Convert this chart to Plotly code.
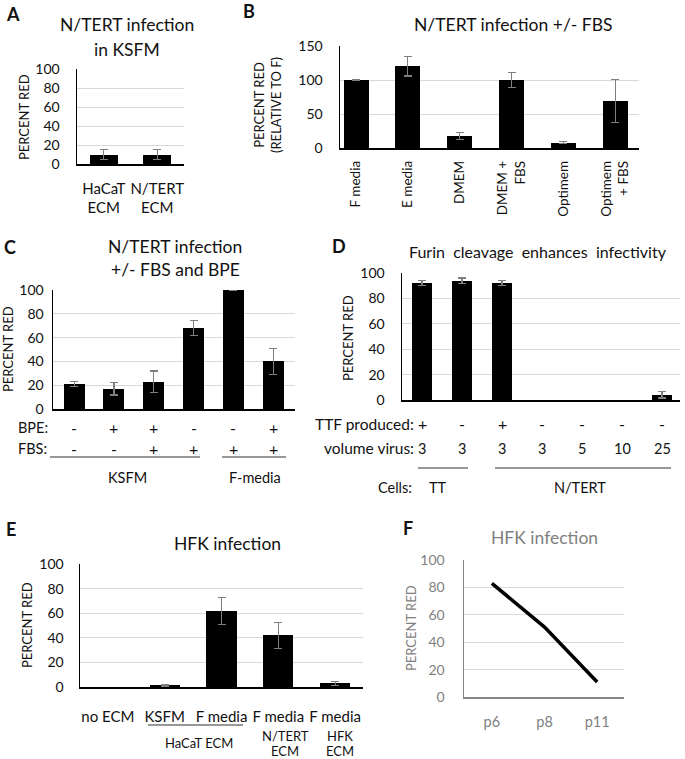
import plotly.graph_objects as go

# ---------------- data ----------------
A_cats = ["HaCaT<br>ECM", "N/TERT<br>ECM"]
A_vals = [10, 10]
A_err = [5, 5]

B_cats = ["F media", "E media", "DMEM", "DMEM +<br>FBS", "Optimem", "Optimem<br>+ FBS"]
B_vals = [100, 120, 18, 100, 8, 69]
B_err = [0.5, 14, 5, 11, 1, 32]

C_vals = [21, 17, 23, 68, 100, 40]
C_err = [2.2, 5.2, 9, 6.5, 0.3, 10.8]
C_bpe = ["-", "+", "+", "-", "-", "+"]
C_fbs = ["-", "-", "+", "+", "+", "+"]

D_vals = [92, 94, 92, 0, 0, 0, 4]
D_err = [2, 2, 2, None, None, None, 2.4]
D_ttf = ["+", "-", "+", "-", "-", "-", "-"]
D_vol = ["3", "3", "3", "3", "5", "10", "25"]

E_cats = ["no ECM", "KSFM", "F media", "F media", "F media"]
E_vals = [0, 1.5, 62, 42, 3]
E_err = [None, 0.7, 11, 10.5, 1.8]

F_cats = ["p6", "p8", "p11"]
F_vals = [83, 51, 11]

# ---------------- helpers ----------------
W, H = 685, 759
FONT = "Lato"
BLACK = "#111111"
GRID = "#d9d9d9"
ERRC = "#7f7f7f"
TITLE = 17.5


def px(x):
    return x / W


def py(y):
    return 1 - y / H


fig = go.Figure()


def bars(vals, err, axis, width):
    idx = list(range(len(vals)))
    # points without a measured error get no error bar at all
    err_arr = [e if e is not None else "NaN" for e in err]
    fig.add_trace(go.Bar(
        x=idx, y=vals, width=width,
        marker=dict(color="#000000", line=dict(color="#000000", width=0)),
        error_y=dict(type="data", array=err_arr, visible=True, color=ERRC,
                     thickness=1.2, width=4),
        xaxis="x" + axis, yaxis="y" + axis, showlegend=False,
        hoverinfo="y"))


bars(A_vals, A_err, "", 0.52)
bars(B_vals, B_err, "2", 0.48)
bars(C_vals, C_err, "3", 0.53)
bars(D_vals, D_err, "4", 0.52)
bars(E_vals, E_err, "5", 0.53)
fig.add_trace(go.Scatter(x=list(range(len(F_vals))), y=F_vals, mode="lines",
                         line=dict(color="#000000", width=3.5),
                         xaxis="x6", yaxis="y6", showlegend=False))


def xax(dom, rng, ticktext=None, size=14, color=BLACK, linecolor="#000000",
        standoff=10, angle=0):
    d = dict(domain=[px(dom[0]), px(dom[1])], range=rng, showgrid=False,
             zeroline=False, showline=True, linecolor=linecolor, linewidth=1.5,
             ticks="", fixedrange=True, automargin=False,
             tickfont=dict(family=FONT, size=size, color=color))
    if ticktext is None:
        d["showticklabels"] = False
        d["tickvals"] = []
    else:
        d["tickvals"] = list(range(len(ticktext)))
        d["ticktext"] = ticktext
        d["ticklabelstandoff"] = standoff
        d["tickangle"] = angle
    return d


def yax(dom, rng, dtick, anchor, size=14, color=BLACK, linecolor="#000000",
        standoff=12):
    return dict(domain=[py(dom[1]), py(dom[0])], range=rng, dtick=dtick,
                showgrid=True, gridcolor=GRID, gridwidth=1, zeroline=False,
                showline=True, linecolor=linecolor, linewidth=1.5, ticks="",
                anchor=anchor, fixedrange=True, ticklabelstandoff=standoff,
                automargin=False,
                tickfont=dict(family=FONT, size=size, color=color))


fig.update_layout(
    width=W, height=H, autosize=False,
    margin=dict(l=0, r=0, t=0, b=0, pad=0, autoexpand=False),
    paper_bgcolor="white", plot_bgcolor="white",
    bargap=0,
    xaxis=xax([77, 184], [-0.5, 1.5], A_cats, size=15, standoff=10),
    yaxis=yax([69, 164], [0, 100], 20, "x", standoff=13),
    xaxis2=dict(xax([340, 639], [-0.31, 5.46], B_cats, size=13.5, standoff=6,
                    angle=-90), anchor="y2"),
    yaxis2=yax([46, 148], [0, 150], 50, "x2", standoff=13),
    xaxis3=dict(xax([53, 295], [-0.53, 5.55]), anchor="y3"),
    yaxis3=yax([290, 409], [0, 100], 20, "x3", standoff=5),
    xaxis4=dict(xax([402, 680], [-0.5, 6.45]), anchor="y4"),
    yaxis4=yax([273, 400], [0, 100], 20, "x4", standoff=13),
    xaxis5=dict(xax([80, 363], [-0.49, 4.49], E_cats, size=15, standoff=15),
                anchor="y5"),
    yaxis5=yax([564, 687], [0, 100], 20, "x5", standoff=12),
    xaxis6=dict(xax([464, 624], [-0.53, 2.51], F_cats, size=14.5,
                    color="#7f7f7f", linecolor="#868686", standoff=11),
                anchor="y6"),
    yaxis6=yax([560, 697], [0, 100], 20, "x6", color="#7f7f7f",
               linecolor="#868686", standoff=15),
)

ann = []


def text(x, y, t, size=14, color=BLACK, xanchor="center", bold=False,
         angle=0, xref="paper"):
    ann.append(dict(
        x=x if xref != "paper" else px(x), y=py(y), xref=xref, yref="paper",
        text=("<b>%s</b>" % t) if bold else t, showarrow=False,
        xanchor=xanchor, yanchor="middle", textangle=angle,
        font=dict(family=FONT, size=size, color=color)))


# panel letters
for lab, x, y in [("A", 13, 14), ("B", 249, 11), ("C", 10, 247),
                  ("D", 339, 246), ("E", 11, 529), ("F", 408, 528)]:
    text(x, y, lab, size=18, bold=True)

# titles
text(127, 25, "N/TERT infection", size=TITLE)
text(127, 50, "in KSFM", size=TITLE)
text(513, 25, "N/TERT infection +/- FBS", size=TITLE)
text(175, 247, "N/TERT infection", size=TITLE)
text(175, 270, "+/- FBS and BPE", size=TITLE)
text(538, 251, "Furin  cleavage  enhances  infectivity", size=16)
text(227, 543, "HFK infection", size=TITLE)
text(544, 537, "HFK infection", size=TITLE, color="#7f7f7f")

# y-axis titles
text(24, 117, "PERCENT RED", size=13, angle=-90)
text(268, 105, "PERCENT RED<br>(RELATIVE TO F)", size=13, angle=-90)
text(8, 349, "PERCENT RED", size=13, angle=-90)
text(348, 338, "PERCENT RED", size=13, angle=-90)
text(27, 625, "PERCENT RED", size=13, angle=-90)
text(411, 628, "PERCENT RED", size=13, angle=-90, color="#7f7f7f")

# panel C condition rows
text(16, 427, "BPE:", size=14.5, xanchor="left")
text(16, 449, "FBS:", size=14.5, xanchor="left")
for i, (b, f) in enumerate(zip(C_bpe, C_fbs)):
    text(i, 427, b, size=16, xref="x3")
    text(i, 449, f, size=16, xref="x3")
text(128, 477, "KSFM", size=14.5)
text(255, 477, "F-media", size=14.5)

# panel D condition rows
text(416, 424, "TTF produced:", size=15.5, xanchor="right")
text(416, 448, "volume virus:", size=15.5, xanchor="right")
for i, (t, v) in enumerate(zip(D_ttf, D_vol)):
    text(i, 424, t, size=16, xref="x4")
    text(i, 448, v, size=14.5, xref="x4")
text(414, 487, "Cells:", size=14.5, xanchor="right")
text(438, 487, "TT", size=14.5)
text(580, 487, "N/TERT", size=14.5)

# panel E group labels
text(199, 743, "HaCaT ECM", size=13)
text(285, 736, "N/TERT", size=13)
text(285, 751, "ECM", size=13)
text(340, 736, "HFK", size=13)
text(340, 751, "ECM", size=13)

fig.update_layout(annotations=ann)

# group underlines
shapes = []
for x0, x1, y in [(50, 200, 457), (222, 286, 457), (418, 468, 468),
                  (495, 671, 468), (148, 243, 725)]:
    shapes.append(dict(type="line", xref="paper", yref="paper",
                       x0=px(x0), x1=px(x1), y0=py(y), y1=py(y),
                       line=dict(color="#333333", width=1.2)))
fig.update_layout(shapes=shapes)

fig.write_html("out.html",
               config={"displayModeBar": False, "staticPlot": True},
               post_script="document.body.style.margin='0';"
                           "document.body.style.padding='0';")
